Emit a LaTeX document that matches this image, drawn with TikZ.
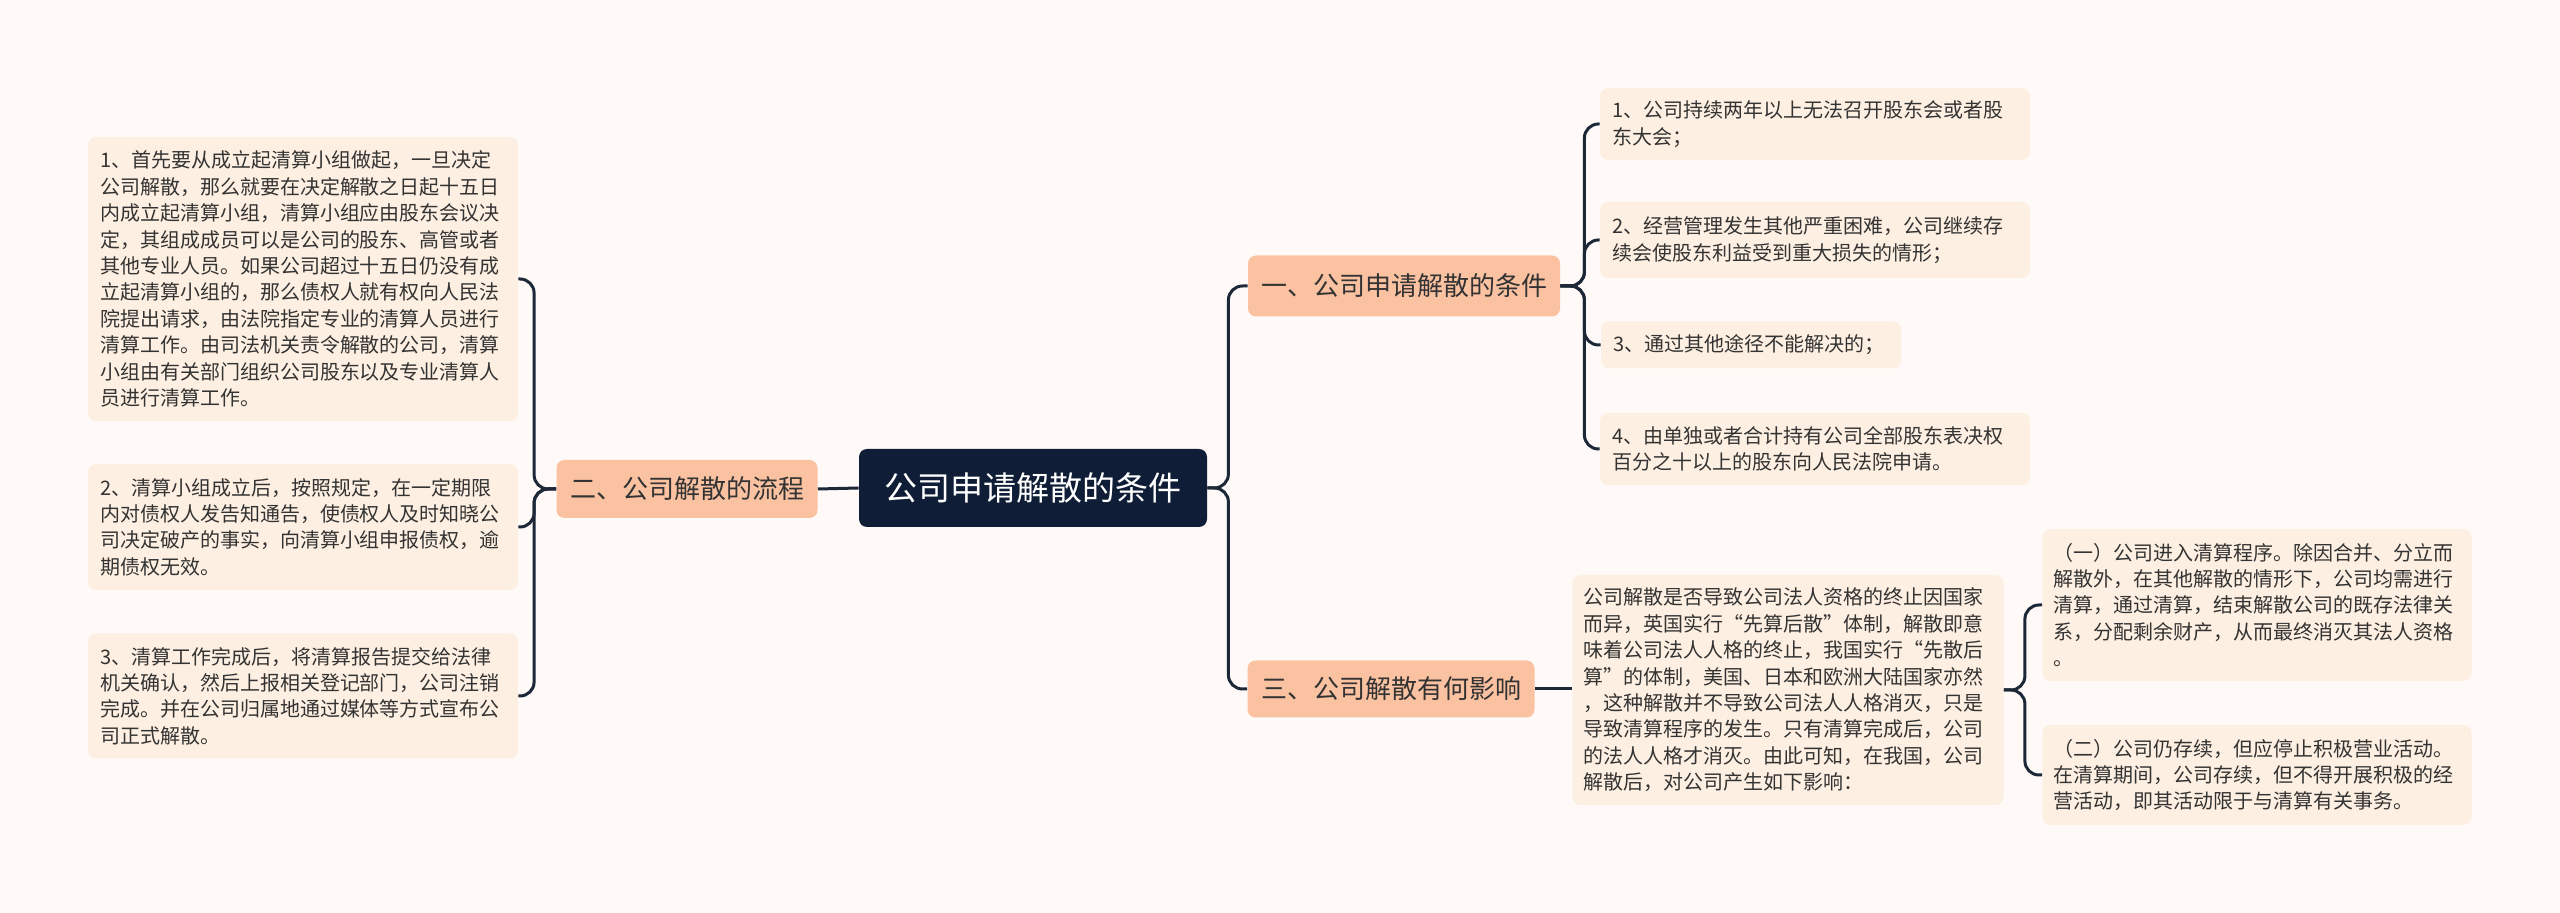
\documentclass[tikz,border=0pt]{standalone}
\usepackage{fontspec}
\setmainfont{Noto Sans CJK SC}
\begin{document}
\begin{tikzpicture}[x=0.5pt,y=-0.5pt,
 leaf/.style={fill=leafc,rounded corners=4pt,align=left,inner sep=0pt,text=txt,font=\fontsize{10}{13.2}\selectfont},
 lone/.style={fill=l1c,rounded corners=4pt,inner sep=0pt,text=txt,font=\fontsize{13}{16}\selectfont},
 conn/.style={draw=linec,line width=1.5pt,rounded corners=7pt}]
\definecolor{bg}{HTML}{FFFAF8}
\definecolor{leafc}{HTML}{FDEFE1}
\definecolor{l1c}{HTML}{FBC2A2}
\definecolor{linec}{HTML}{1C2738}
\definecolor{txt}{HTML}{333333}
\definecolor{rootc}{HTML}{0F1E36}
\fill[bg] (0,0) rectangle (2560,913);
\useasboundingbox (0,0) rectangle (2560,913);
\node[fill=rootc,rounded corners=4pt,text=white,minimum width=174pt,minimum height=39pt,font=\fontsize{16.5}{20}\selectfont] (root) at (1033,488) {公司申请解散的条件};
\node[lone,minimum width=130.5pt,minimum height=29pt] (b2) at (687,489) {二、公司解散的流程};
\node[lone,minimum width=156pt,minimum height=30.5pt] (b1) at (1404,286) {一、公司申请解散的条件};
\node[lone,minimum width=143.5pt,minimum height=28.5pt] (b3) at (1391,689) {三、公司解散有何影响};
\node[leaf,minimum width=215pt,minimum height=142pt,text width=203pt] (l1) at (303,279) {1、首先要从成立起清算小组做起，一旦决定\\公司解散，那么就要在决定解散之日起十五日\\内成立起清算小组，清算小组应由股东会议决\\定，其组成成员可以是公司的股东、高管或者\\其他专业人员。如果公司超过十五日仍没有成\\立起清算小组的，那么债权人就有权向人民法\\院提出请求，由法院指定专业的清算人员进行\\清算工作。由司法机关责令解散的公司，清算\\小组由有关部门组织公司股东以及专业清算人\\员进行清算工作。};
\node[leaf,minimum width=215pt,minimum height=63pt,text width=203pt] (l2) at (303,527) {2、清算小组成立后，按照规定，在一定期限\\内对债权人发告知通告，使债权人及时知晓公\\司决定破产的事实，向清算小组申报债权，逾\\期债权无效。};
\node[leaf,minimum width=215pt,minimum height=62.5pt,text width=203pt] (l3) at (303,696) {3、清算工作完成后，将清算报告提交给法律\\机关确认，然后上报相关登记部门，公司注销\\完成。并在公司归属地通过媒体等方式宣布公\\司正式解散。};
\node[leaf,minimum width=215pt,minimum height=36pt,text width=203pt] (r1) at (1815,124) {1、公司持续两年以上无法召开股东会或者股\\东大会；};
\node[leaf,minimum width=215pt,minimum height=38pt,text width=203pt] (r2) at (1815,240) {2、经营管理发生其他严重困难，公司继续存\\续会使股东利益受到重大损失的情形；};
\node[leaf,minimum width=150pt,minimum height=23.5pt,text width=138pt] (r3) at (1751,345) {3、通过其他途径不能解决的；};
\node[leaf,minimum width=215pt,minimum height=36pt,text width=203pt] (r4) at (1815,449) {4、由单独或者合计持有公司全部股东表决权\\百分之十以上的股东向人民法院申请。};
\node[leaf,minimum width=215.5pt,minimum height=115pt,text width=205pt] (m) at (1788,690) {公司解散是否导致公司法人资格的终止因国家\\而异，英国实行“先算后散”体制，解散即意\\味着公司法人人格的终止，我国实行“先散后\\算”的体制，美国、日本和欧洲大陆国家亦然\\，这种解散并不导致公司法人人格消灭，只是\\导致清算程序的发生。只有清算完成后，公司\\的法人人格才消灭。由此可知，在我国，公司\\解散后，对公司产生如下影响：};
\node[leaf,minimum width=214.5pt,minimum height=76pt,text width=204pt] (m1) at (2257,605) {（一）公司进入清算程序。除因合并、分立而\\解散外，在其他解散的情形下，公司均需进行\\清算，通过清算，结束解散公司的既存法律关\\系，分配剩余财产，从而最终消灭其法人资格\\。};
\node[leaf,minimum width=214.5pt,minimum height=50pt,text width=204pt] (m2) at (2257,775) {（二）公司仍存续，但应停止积极营业活动。\\在清算期间，公司存续，但不得开展积极的经\\营活动，即其活动限于与清算有关事务。};
\draw[conn] (root.west) -- (b2.east);
\foreach \t in {b1,b3} \draw[conn] (root.east) -- ([xshift=10.5pt]root.east) |- (\t.west);
\foreach \t in {l1,l2,l3} \draw[conn] (b2.west) -- ([xshift=-11pt]b2.west) |- (\t.east);
\foreach \t in {r1,r2,r3,r4} \draw[conn] (b1.east) -- ([xshift=12pt]b1.east) |- (\t.west);
\draw[conn] (b3.east) -- (m.west |- b3.east);
\foreach \t in {m1,m2} \draw[conn] (m.east) -- ([xshift=10.5pt]m.east) |- (\t.west);
\end{tikzpicture}
\end{document}
